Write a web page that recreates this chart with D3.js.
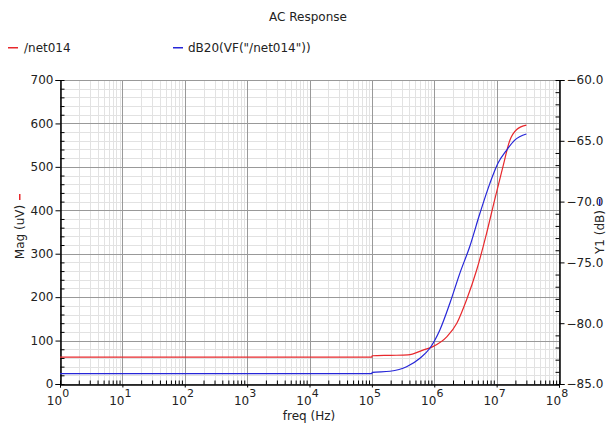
<!DOCTYPE html>
<html>
<head>
<meta charset="utf-8">
<script src="https://cdn.jsdelivr.net/npm/d3@7"></script>
<style>
body { margin: 0; background: #fff; }
svg { font-family: "DejaVu Sans", sans-serif; }
.lbl { font-size: 12px; fill: #222; }
</style>
</head>
<body>
<svg width="616" height="426"></svg>
<script>
// red trace: magnitude of /net014 in uV
var magFreq = [1, 1e5, 1.01e5, 2e5, 3.8e5, 6.6e5, 9.5e5, 1.6e6, 2.3e6, 3.3e6,
  4.8e6, 6.9e6, 9.3e6, 1.26e7, 1.62e7, 2.1e7, 3e7];
var magVal = [62, 62, 65, 66, 67, 78, 86, 109, 140, 194,
  263, 347, 424, 500, 560, 586, 596];
// blue trace: dB20 of the same node
var dbFreq = [1, 1e5, 1.01e5, 1.95e5, 3.6e5, 5.9e5, 8.5e5, 1.23e6, 1.78e6, 2.57e6,
  3.7e6, 5.4e6, 7.8e6, 1.05e7, 1.45e7, 1.95e7, 3e7];
var dbVal = [-84.15, -84.15, -84.05, -83.95, -83.58, -82.88, -82.06, -80.56, -78.36, -75.9,
  -73.71, -70.96, -68.5, -66.85, -65.76, -64.94, -64.44];

var leftTicks = [0, 100, 200, 300, 400, 500, 600, 700];
var rightTicks = [-85, -80, -75, -70, -65, -60];
var decades = [0, 1, 2, 3, 4, 5, 6, 7, 8];

var red = '#e8282c', blue = '#2626d8';
var svg = d3.select('svg');
var L = 60, R = 559, T = 80, B = 384;

var scaleX = d3.scaleLog().domain([1, 1e8]).range([L, R]);
var scaleY = d3.scaleLinear().domain([0, 700]).range([B, T]);
var scaleY2 = d3.scaleLinear().domain([-85, -60]).range([B, T]);

// minor values
var minorX = [];
for (var d = 0; d < 8; d++) for (var k = 2; k <= 9; k++) minorX.push(k * Math.pow(10, d));
var minorY = d3.range(0, 701, 20).filter(function(v) { return v % 100 != 0; });
var minorY2 = d3.range(-85, -59, 1).filter(function(v) { return v % 5 != 0; });

var grid = svg.append('g');
grid.selectAll('.vmin').data(minorX).enter().append('line')
  .attr('x1', function(v) { return Math.round(scaleX(v)) + 0.5; })
  .attr('x2', function(v) { return Math.round(scaleX(v)) + 0.5; })
  .attr('y1', T).attr('y2', B).attr('stroke', '#e2e2e2');
grid.selectAll('.hmin').data(minorY).enter().append('line')
  .attr('y1', function(v) { return Math.round(scaleY(v)) + 0.5; })
  .attr('y2', function(v) { return Math.round(scaleY(v)) + 0.5; })
  .attr('x1', L).attr('x2', R).attr('stroke', '#e2e2e2');
grid.selectAll('.vmaj').data(decades).enter().append('line')
  .attr('x1', function(v) { return Math.round(scaleX(Math.pow(10, v))) + 0.5; })
  .attr('x2', function(v) { return Math.round(scaleX(Math.pow(10, v))) + 0.5; })
  .attr('y1', T).attr('y2', B).attr('stroke', '#999');
grid.selectAll('.hmaj').data(leftTicks).enter().append('line')
  .attr('y1', function(v) { return Math.round(scaleY(v)) + 0.5; })
  .attr('y2', function(v) { return Math.round(scaleY(v)) + 0.5; })
  .attr('x1', L).attr('x2', R).attr('stroke', '#999');

// axes
var axL = svg.append('g').attr('transform', 'translate(' + (L + 0.5) + ',0)');
axL.call(d3.axisLeft(scaleY).tickValues(leftTicks).tickSize(5).tickPadding(2));
axL.append('g').call(d3.axisRight(scaleY).tickValues(minorY).tickSize(4).tickFormat(''));
var axR = svg.append('g').attr('transform', 'translate(' + (R + 0.5) + ',0)');
axR.call(d3.axisRight(scaleY2).tickValues(rightTicks).tickSize(5).tickPadding(2)
  .tickFormat(d3.format('.1f')));
axR.append('g').call(d3.axisLeft(scaleY2).tickValues(minorY2).tickSize(4).tickFormat(''));
var axB = svg.append('g').attr('transform', 'translate(0,' + (B + 0.5) + ')');
axB.call(d3.axisBottom(scaleX).tickValues(decades.map(function(v) { return Math.pow(10, v); }))
  .tickSize(3).tickFormat(''));
axB.append('g').call(d3.axisTop(scaleX).tickValues(minorX).tickSize(4).tickFormat(''));
svg.selectAll('.domain').attr('stroke', '#000');
svg.selectAll('.tick line').attr('stroke', '#000');
svg.selectAll('.tick text').attr('font-size', 12).attr('fill', '#222')
  .attr('font-family', '"DejaVu Sans", sans-serif');

// decade labels with superscripts
var xl = svg.append('g').selectAll('text').data(decades).enter().append('text')
  .attr('class', 'lbl').attr('x', function(v) { return scaleX(Math.pow(10, v)) - 2; })
  .attr('y', 405).attr('text-anchor', 'middle').attr('font-size', 14);
xl.append('tspan').text('10');
xl.append('tspan').attr('dy', -8).attr('font-size', 11).text(function(v) { return v; });

// traces
var line = d3.line().curve(d3.curveMonotoneX)
  .x(function(p) { return scaleX(p[0]); });
svg.append('path').datum(d3.zip(magFreq, magVal))
  .attr('d', line.y(function(p) { return scaleY(p[1]); }))
  .attr('fill', 'none').attr('stroke', red).attr('stroke-width', 1.2);
svg.append('path').datum(d3.zip(dbFreq, dbVal))
  .attr('d', line.y(function(p) { return scaleY2(p[1]); }))
  .attr('fill', 'none').attr('stroke', blue).attr('stroke-width', 1.2);

// titles and legend
svg.append('text').attr('class', 'lbl').attr('x', 308).attr('y', 21)
  .attr('text-anchor', 'middle').attr('font-size', 11.5).text('AC Response');
svg.append('text').attr('class', 'lbl').attr('x', 309).attr('y', 420)
  .attr('text-anchor', 'middle').text('freq (Hz)');

svg.append('rect').attr('x', 8).attr('width', 10).attr('y', 47).attr('height', 1.5).attr('fill', red);
svg.append('text').attr('class', 'lbl').attr('x', 24).attr('y', 51.5).text('/net014');
svg.append('rect').attr('x', 173).attr('width', 10).attr('y', 47).attr('height', 1.5).attr('fill', blue);
svg.append('text').attr('class', 'lbl').attr('x', 188).attr('y', 51.5).text('dB20(VF("/net014"))');

var yl = svg.append('g').attr('transform', 'translate(24,232) rotate(-90)');
yl.append('text').attr('class', 'lbl').attr('text-anchor', 'middle').text('Mag (uV)');
yl.append('rect').attr('x', 32).attr('width', 6).attr('y', -5).attr('height', 1.5).attr('fill', red);
var yr = svg.append('g').attr('transform', 'translate(604,232) rotate(-90)');
yr.append('text').attr('class', 'lbl').attr('text-anchor', 'middle').text('Y1 (dB)');
yr.append('rect').attr('x', 27).attr('width', 6).attr('y', -5).attr('height', 1.5).attr('fill', blue);
</script>
</body>
</html>
